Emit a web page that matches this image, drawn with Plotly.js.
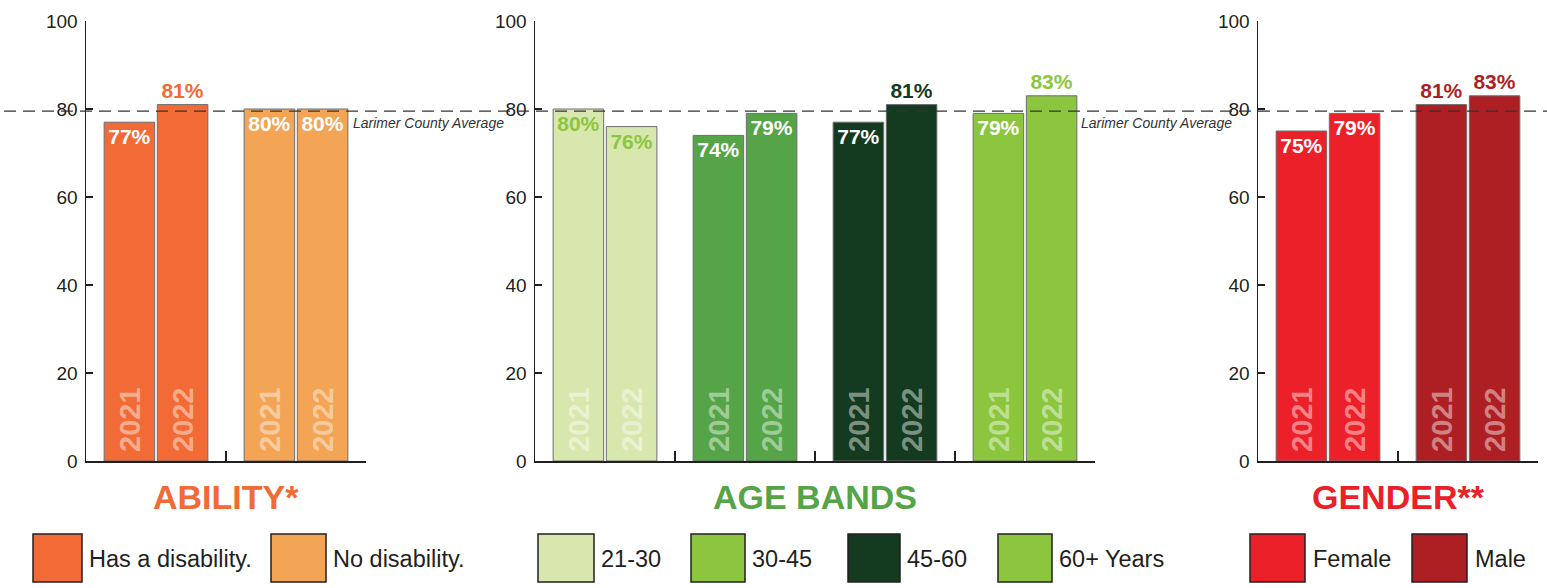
<!DOCTYPE html>
<html>
<head>
<meta charset="utf-8">
<script src="https://cdn.plot.ly/plotly-3.0.1.min.js"></script>
<style>
  html, body { margin: 0; padding: 0; background: #ffffff; }
  #chart { width: 1547px; height: 588px; }
</style>
</head>
<body>
<div id="chart"></div>
<script>
// ---- data -------------------------------------------------------------
const years = ['2021', '2022'];

const abilityCats = ['Has a disability.', 'No disability.'];
const ability2021 = [77, 80];
const ability2022 = [81, 80];

const ageCats = ['21-30', '30-45', '45-60', '60+ Years'];
const age2021 = [80, 74, 77, 79];
const age2022 = [76, 79, 81, 83];

const genderCats = ['Female', 'Male'];
const gender2021 = [75, 81];
const gender2022 = [79, 83];

const countyAverage = 79.5;
const countyLabel = 'Larimer County Average';

// ---- styling ----------------------------------------------------------
const W = 1547, H = 588;
const FAMILY = "'Liberation Sans', Arial, sans-serif";
const INK = '#231f20';
const px = x => x / W;            // pixel -> paper (horizontal)
const py = y => 1 - y / H;        // pixel -> paper (vertical)
const font = (size, color, extra) =>
  Object.assign({ family: FAMILY, size: size, color: color }, extra || {});

const panels = [
  {
    cats: abilityCats, values: [ability2021, ability2022],
    fill: ['#f26a36', '#f4a455'],
    swatch: ['#f26a36', '#f4a455'],
    insideText: ['#ffffff', '#ffffff'],
    outsideText: ['#f26a36', '#f4a455'],
    title: 'ABILITY*', titleColor: '#f26a36',
    domain: [86, 366],
    legend: [[33, 82, 87], [271, 326, 331]]
  },
  {
    cats: ageCats, values: [age2021, age2022],
    fill: ['#d8e7ae', '#55a447', '#143a20', '#8cc63f'],
    swatch: ['#d8e7ae', '#8cc63f', '#143a20', '#8cc63f'],
    insideText: ['#8cc63f', '#ffffff', '#ffffff', '#ffffff'],
    outsideText: ['#8cc63f', '#55a447', '#143a20', '#8cc63f'],
    title: 'AGE BANDS', titleColor: '#55a447',
    domain: [535, 1095],
    legend: [[538, 594, 599], [691, 745, 750], [848, 900, 905], [998, 1052, 1057]]
  },
  {
    cats: genderCats, values: [gender2021, gender2022],
    fill: ['#ec2028', '#ae1f24'],
    swatch: ['#ec2028', '#ae1f24'],
    insideText: ['#ffffff', '#ffffff'],
    outsideText: ['#ec2028', '#ae1f24'],
    title: 'GENDER**', titleColor: '#ec2028',
    domain: [1258, 1538],
    legend: [[1250, 1305, 1311], [1412, 1467, 1473]]
  }
];

const BARGAP = 0.24, GROUPGAP = 0.05;
const slotOffset = (1 - BARGAP) / 4;   // centre of each year's bar within a category

const yDomain = [py(461), py(21)];
const traces = [];
const annotations = [];
const shapes = [];
const layout = {
  width: W, height: H,
  margin: { l: 0, r: 0, t: 0, b: 0 },
  paper_bgcolor: '#ffffff',
  plot_bgcolor: 'rgba(0,0,0,0)',
  barmode: 'group', bargap: BARGAP, bargroupgap: GROUPGAP,
  showlegend: false,
  hovermode: false,
  font: font(14, INK)
};

panels.forEach((p, k) => {
  const sfx = k === 0 ? '' : String(k + 1);
  const xa = 'x' + sfx, ya = 'y' + sfx;

  layout['xaxis' + sfx] = {
    domain: [px(p.domain[0]), px(p.domain[1])],
    anchor: ya, type: 'category',
    range: [-0.5, p.cats.length - 0.5],
    showline: true, linecolor: INK, linewidth: 1.5,
    ticks: 'inside', tickson: 'boundaries', ticklen: 10, tickwidth: 1.5, tickcolor: INK,
    showticklabels: false, showgrid: false, zeroline: false, fixedrange: true
  };
  layout['yaxis' + sfx] = {
    domain: yDomain, anchor: xa,
    range: [0, 100], tickmode: 'linear', tick0: 0, dtick: 20,
    showline: true, linecolor: INK, linewidth: 1.5,
    ticks: 'inside', ticklen: 7, tickwidth: 1.5, tickcolor: INK,
    tickfont: font(19, INK),
    ticklabelstandoff: 3,
    showgrid: false, zeroline: false, fixedrange: true
  };

  p.values.forEach((vals, j) => {
    traces.push({
      type: 'bar', name: years[j], x: p.cats, y: vals,
      xaxis: xa, yaxis: ya,
      marker: { color: p.fill, line: { color: '#6d6e71', width: 1 } },
      text: vals.map(v => v + '%'),
      textposition: vals.map(v => (v > 80 ? 'outside' : 'inside')),
      insidetextanchor: 'end', textangle: 0, constraintext: 'none', cliponaxis: false,
      textfont: font(21, vals.map((v, i) => (v > 80 ? p.outsideText[i] : p.insideText[i])), { weight: 700 }),
      hoverinfo: 'skip'
    });

    // year written up the foot of each bar
    p.cats.forEach((c, i) => {
      annotations.push({
        xref: xa, yref: ya,
        x: i + (j === 0 ? -slotOffset : slotOffset), y: 0,
        text: years[j], textangle: -90, showarrow: false,
        xanchor: 'center', yanchor: 'bottom', yshift: 7,
        font: font(29, 'rgba(255,255,255,0.45)', { weight: 700 })
      });
    });
  });

  // panel title
  annotations.push({
    xref: 'paper', yref: 'paper',
    x: px((p.domain[0] + p.domain[1]) / 2), y: py(497),
    xanchor: 'center', yanchor: 'middle', showarrow: false,
    text: p.title,
    font: font(34, p.titleColor, { weight: 700 })
  });

  // legend swatches and labels
  p.legend.forEach(([x0, x1, tx], i) => {
    shapes.push({
      type: 'rect', xref: 'paper', yref: 'paper',
      x0: px(x0), x1: px(x1), y0: py(582), y1: py(534),
      fillcolor: p.swatch[i], line: { color: INK, width: 1.5 }, layer: 'above'
    });
    annotations.push({
      xref: 'paper', yref: 'paper', x: px(tx), y: py(559),
      xanchor: 'left', yanchor: 'middle', showarrow: false,
      text: p.cats[i], font: font(23.5, INK)
    });
  });
});

// county average reference line across all panels
shapes.push({
  type: 'line', xref: 'paper', yref: 'y',
  x0: px(4), x1: 1, y0: countyAverage, y1: countyAverage,
  line: { color: '#333333', width: 1.2, dash: '12px,7px' }, layer: 'above'
});
[351, 1079].forEach(x => {
  annotations.push({
    xref: 'paper', yref: 'y', x: px(x), y: countyAverage,
    xanchor: 'left', yanchor: 'top', yshift: -2, showarrow: false,
    text: countyLabel,
    font: font(14, '#333333', { style: 'italic' })
  });
});

layout.annotations = annotations;
layout.shapes = shapes;

Plotly.newPlot('chart', traces, layout, { staticPlot: true, displayModeBar: false });
</script>
</body>
</html>
